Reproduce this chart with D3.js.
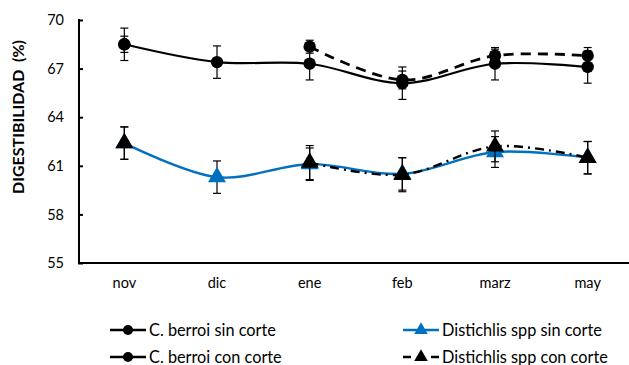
<!DOCTYPE html>
<html>
<head>
<meta charset="utf-8">
<script src="https://cdn.jsdelivr.net/npm/d3@7"></script>
<style>
  html, body { margin: 0; padding: 0; background: #fff; }
  svg { display: block; font-family: Lato, "Open Sans", sans-serif; }
</style>
</head>
<body>
<svg id="chart" width="629" height="365"></svg>
<script>
// Months sampled
const months = ["nov", "dic", "ene", "feb", "marz", "may"];

// Digestibility (%) by series, with error bar half-widths
const berroiSin = [68.5, 67.4, 67.3, 66.1, 67.3, 67.1];
const berroiSinErr = [1.0, 1.0, 1.0, 1.0, 1.0, 1.0];
const distSin = [62.4, 60.3, 61.1, 60.5, 61.85, 61.5];
const distSinErr = [1.0, 1.0, 1.0, 1.0, 0.95, 1.0];
const berroiCon = [68.5, null, 68.35, 66.3, 67.8, 67.8];
const berroiConErr = [0.5, null, 0.4, 0.55, 0.4, 0.5];
const distCon = [62.4, null, 61.2, 60.45, 62.2, 61.5];
const distConErr = [1.0, null, 1.05, 1.05, 0.95, 1.0];

// Y axis ticks
const yTicks = [55, 58, 61, 64, 67, 70];

const seriesNames = [
  "C. berroi sin corte",
  "Distichlis spp sin corte",
  "C. berroi con corte",
  "Distichlis spp con corte"
];

const svg = d3.select("#chart");

const x = d3.scaleBand().domain(months).range([78, 634]).padding(0);
const y = d3.scaleLinear().domain([55, 70]).range([263, 20]);
const cx = m => x(m) + x.bandwidth() / 2;

const blue = "#0070C0";
const series = [
  { name: seriesNames[0], vals: berroiSin, err: berroiSinErr, marker: "circle", color: "#000", width: 2.2, dash: null, legDash: false },
  { name: seriesNames[1], vals: distSin, err: distSinErr, marker: "triangle", color: blue, width: 2.4, dash: null, legDash: false },
  { name: seriesNames[2], vals: berroiCon, err: berroiConErr, marker: "circle", color: "#000", width: 2.8, dash: "10,7", legDash: false },
  { name: seriesNames[3], vals: distCon, err: distConErr, marker: "triangle", color: "#000", width: 2.4, dash: "9,5,2,5", legDash: true }
];

// Axes
svg.append("line").attr("x1", 79).attr("x2", 629).attr("y1", y(55)).attr("y2", y(55))
  .attr("stroke", "#000").attr("stroke-width", 2);
svg.append("line").attr("x1", 79).attr("x2", 79).attr("y1", y(70) - 1).attr("y2", y(55) + 1)
  .attr("stroke", "#000").attr("stroke-width", 2);

const yAxis = d3.axisLeft(y).tickValues(yTicks).tickSize(0).tickPadding(0);
const yg = svg.append("g").call(yAxis);
yg.select(".domain").remove();
yg.selectAll("text").attr("x", 64).attr("font-size", "14.5px").attr("fill", "#000")
  .attr("font-family", "Lato, sans-serif");
yg.selectAll(".tick").append("line").attr("x1", 78).attr("x2", 83).attr("stroke", "#000").attr("stroke-width", 2);

const xAxis = d3.axisBottom(x).tickSize(0).tickPadding(0);
const xg = svg.append("g").attr("transform", `translate(0,${y(55)})`).call(xAxis);
xg.select(".domain").remove();
xg.selectAll("text").attr("y", 15).attr("font-size", "14.5px").attr("fill", "#000")
  .attr("font-family", "Lato, sans-serif");

// Y title
svg.append("text")
  .attr("transform", `translate(24,117) rotate(-90)`)
  .attr("text-anchor", "middle")
  .attr("font-size", "16px").attr("font-weight", "bold")
  .attr("fill", "#000")
  .style("white-space", "pre")
  .text("DIGESTIBILIDAD  (%)");

// Curves
const line = d3.line()
  .defined(d => d.v != null)
  .x(d => cx(d.m))
  .y(d => y(d.v))
  .curve(d3.curveCardinal.tension(0));

const triPath = d3.symbol().type(d3.symbolTriangle).size(140)();

series.forEach(s => {
  const pts = months.map((m, i) => ({ m, v: s.vals[i], e: s.err[i] }));
  const g = svg.append("g");
  g.append("path").datum(pts).attr("d", line)
    .attr("fill", "none").attr("stroke", s.color).attr("stroke-width", s.width)
    .attr("stroke-dasharray", s.dash);
  const valid = pts.filter(d => d.v != null);
  // error bars
  const eb = g.selectAll(".eb").data(valid).enter().append("g");
  eb.append("line").attr("x1", d => cx(d.m)).attr("x2", d => cx(d.m))
    .attr("y1", d => y(d.v + d.e)).attr("y2", d => y(d.v - d.e))
    .attr("stroke", "#000").attr("stroke-width", 1.2);
  [1, -1].forEach(sg => {
    eb.append("line").attr("x1", d => cx(d.m) - 4).attr("x2", d => cx(d.m) + 4)
      .attr("y1", d => y(d.v + sg * d.e)).attr("y2", d => y(d.v + sg * d.e))
      .attr("stroke", "#000").attr("stroke-width", 1.2);
  });
  // markers
  if (s.marker === "circle") {
    g.selectAll(".mk").data(valid).enter().append("circle")
      .attr("cx", d => cx(d.m)).attr("cy", d => y(d.v)).attr("r", 6.2)
      .attr("fill", s.color);
  } else {
    g.selectAll(".mk").data(valid).enter().append("path")
      .attr("d", triPath)
      .attr("transform", d => `translate(${cx(d.m)},${y(d.v)})`)
      .attr("fill", s.color);
  }
});

// Legend
const legendPos = [
  { x: 110, y: 330 }, { x: 403, y: 330 },
  { x: 110, y: 357 }, { x: 403, y: 357 }
];
const legTri = d3.symbol().type(d3.symbolTriangle).size(80)();
series.forEach((s, i) => {
  const p = legendPos[i];
  const g = svg.append("g").attr("transform", `translate(${p.x},${p.y})`);
  if (s.legDash) {
    g.append("line").attr("x1", 0).attr("x2", 8).attr("stroke", s.color).attr("stroke-width", 2.5);
    g.append("line").attr("x1", 28).attr("x2", 36).attr("stroke", s.color).attr("stroke-width", 2.5);
  } else {
    g.append("line").attr("x1", 0).attr("x2", 36).attr("stroke", s.color).attr("stroke-width", 2.5);
  }
  if (s.marker === "circle") {
    g.append("circle").attr("cx", 18).attr("r", 5).attr("fill", s.color);
  } else {
    g.append("path").attr("d", legTri).attr("transform", "translate(18,0)").attr("fill", s.color);
  }
  g.append("text").attr("x", 39).attr("dy", "0.35em").attr("font-size", "16.3px").attr("fill", "#000")
    .text(s.name);
});
</script>
</body>
</html>
